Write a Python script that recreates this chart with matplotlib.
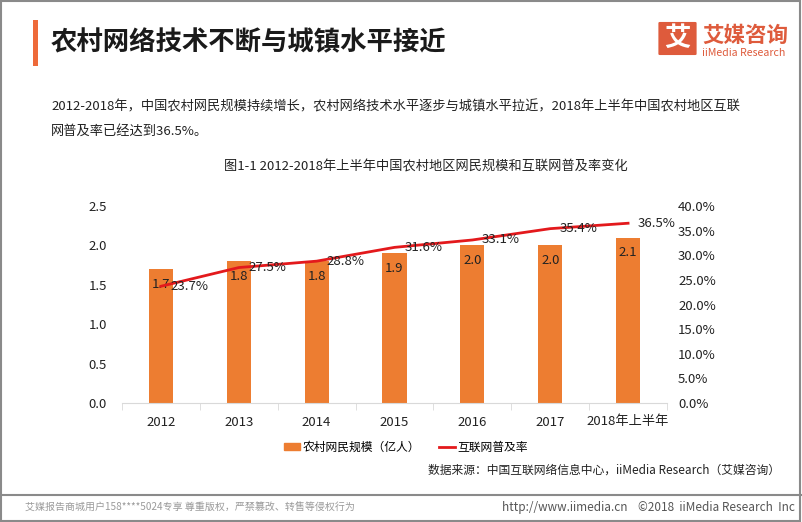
import matplotlib
matplotlib.use('Agg')
import matplotlib.pyplot as plt
from matplotlib.patches import Rectangle, FancyBboxPatch
from matplotlib.lines import Line2D
from matplotlib.ticker import PercentFormatter, FixedLocator

plt.rcParams['font.family'] = ['Noto Sans CJK SC', 'DejaVu Sans']

# data
years = ['2012', '2013', '2014', '2015', '2016', '2017', '2018年上半年']
users = [1.7, 1.8, 1.8, 1.9, 2.0, 2.0, 2.1]          # 亿人
rate = [23.7, 27.5, 28.8, 31.6, 33.1, 35.4, 36.5]     # %

bar_color = '#ED7D31'
line_color = '#E3191C'
W, H = 802, 522

fig = plt.figure(figsize=(W / 100, H / 100), dpi=100)

def fx(px):
    return px / W

def fy(py):
    return 1 - py / H

# frame and separators
fig.patches.append(Rectangle((0.001, 0.002), 0.997, 0.996, transform=fig.transFigure,
                             fill=False, edgecolor='#8a8a8a', lw=1.5))
fig.lines.append(Line2D([0, 1], [fy(495), fy(495)], transform=fig.transFigure,
                        color='#8a8a8a', lw=1.5))

# header
fig.patches.append(Rectangle((fx(33), fy(66)), fx(5), 46 / H, transform=fig.transFigure,
                             color='#EE6A3A', lw=0))
fig.text(fx(51), fy(43), '农村网络技术不断与城镇水平接近', fontsize=19, fontweight='bold',
         color='#1a1a1a', va='center', ha='left')

# logo
fig.patches.append(FancyBboxPatch((fx(660), fy(54)), fx(35), 31 / H, transform=fig.transFigure,
                                  boxstyle='round,pad=0.002', color='#DE5B3C', lw=0))
fig.text(fx(677.5), fy(38.5), '艾', fontsize=19, fontweight='bold', color='white',
         ha='center', va='center')
fig.text(fx(702), fy(35), '艾媒咨询', fontsize=15.5, fontweight='bold', color='#DE5B3C',
         ha='left', va='center')
fig.text(fx(702), fy(53), 'iiMedia Research', fontsize=7.6, color='#DE5B3C',
         ha='left', va='center')

# intro paragraph
fig.text(fx(51), fy(107), '2012-2018年，中国农村网民规模持续增长，农村网络技术水平逐步与城镇水平拉近，2018年上半年中国农村地区互联',
         fontsize=9.5, color='#222222', ha='left', va='center')
fig.text(fx(51), fy(131), '网普及率已经达到36.5%。', fontsize=9.5, color='#222222', ha='left', va='center')

fig.text(fx(426), fy(167), '图1-1 2012-2018年上半年中国农村地区网民规模和互联网普及率变化',
         fontsize=9.5, color='#222222', ha='center', va='center')

# chart
ax = fig.add_axes([fx(122), fy(403), fx(667) - fx(122), (403 - 206) / H])
x = list(range(len(years)))
bars = ax.bar(x, users, width=0.31, color=bar_color, zorder=2)
ax.set_xlim(-0.5, len(years) - 0.5)
ax.set_ylim(0, 2.5)
ax.set_yticks([0, 0.5, 1.0, 1.5, 2.0, 2.5])
ax.set_yticklabels([f'{v:.1f}' for v in [0, 0.5, 1.0, 1.5, 2.0, 2.5]])
ax.set_xticks(x)
ax.set_xticklabels(years)
ax.xaxis.set_minor_locator(FixedLocator([i - 0.5 for i in range(len(years) + 1)]))
ax.tick_params(axis='x', which='major', length=0, pad=9, labelsize=9.5, colors='#222222')
ax.tick_params(axis='x', which='minor', length=5, color='#D9D9D9')
ax.tick_params(axis='y', length=0, pad=11, labelsize=9.5, colors='#222222')
for s in ['top', 'right', 'left']:
    ax.spines[s].set_visible(False)
ax.spines['bottom'].set_color('#D9D9D9')

for xi, v in zip(x, users):
    ax.text(xi, v - 0.19, f'{v:.1f}', ha='center', va='center', fontsize=9.5,
            color='#222222', zorder=5)

ax2 = ax.twinx()
ax2.set_ylim(0, 40)
ax2.set_yticks(range(0, 45, 5))
ax2.yaxis.set_major_formatter(PercentFormatter(decimals=1))
ax2.tick_params(axis='y', length=0, pad=8, labelsize=9.5, colors='#222222')
for s in ax2.spines.values():
    s.set_visible(False)
line, = ax2.plot(x, rate, color=line_color, lw=2, zorder=3)
for xi, r in zip(x, rate):
    ax2.annotate(f'{r:.1f}%', (xi, r), xytext=(7, 0), textcoords='offset points',
                 ha='left', va='center', fontsize=9.5, color='#222222')

# legend
handles = [Rectangle((0, 0), 1, 1, color=bar_color),
           Line2D([], [], color=line_color, lw=2)]
fig.legend(handles, ['农村网民规模（亿人）', '互联网普及率'], loc='center',
           bbox_to_anchor=(fx(406), fy(447)), ncol=2, frameon=False, fontsize=8.5,
           handlelength=1.4, handleheight=0.55, handletextpad=0.2, columnspacing=1.6)

fig.text(fx(780), fy(470), '数据来源：中国互联网络信息中心，iiMedia Research（艾媒咨询）',
         fontsize=8.5, color='#222222', ha='right', va='center')

# footer
fig.text(fx(25), fy(508), '艾媒报告商城用户158****5024专享 尊重版权，严禁篡改、转售等侵权行为',
         fontsize=7.2, color='#9a9a9a', ha='left', va='center')
fig.text(fx(795), fy(508), 'http://www.iimedia.cn    ©2018  iiMedia Research  Inc',
         fontsize=8.5, color='#555555', ha='right', va='center')

fig.savefig('out.png', dpi=100)
